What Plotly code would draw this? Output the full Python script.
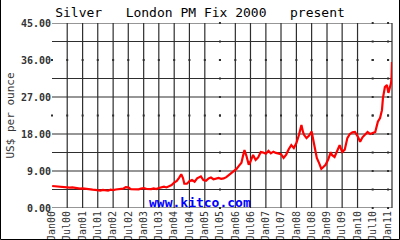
import plotly.graph_objects as go

# ---- data ----
dates = [
    "2000-01-03", "2000-02-01", "2000-03-01", "2000-04-01", "2000-05-01", "2000-06-01",
    "2000-07-01", "2000-08-01", "2000-09-01", "2000-10-01", "2000-11-01", "2000-12-01",
    "2001-01-01", "2001-02-01", "2001-03-01", "2001-04-01", "2001-05-01", "2001-06-01",
    "2001-07-01", "2001-08-01", "2001-09-01", "2001-10-01", "2001-11-01", "2001-12-01",
    "2002-01-01", "2002-02-01", "2002-03-01", "2002-04-01", "2002-05-01", "2002-06-01",
    "2002-07-01", "2002-08-01", "2002-09-01", "2002-10-01", "2002-11-01", "2002-12-01",
    "2003-01-01", "2003-02-01", "2003-03-01", "2003-04-01", "2003-05-01", "2003-06-01",
    "2003-07-01", "2003-08-01", "2003-09-01", "2003-10-01", "2003-11-01", "2003-12-01",
    "2004-01-01", "2004-02-01", "2004-03-01", "2004-03-25", "2004-04-15", "2004-05-01",
    "2004-06-01", "2004-07-01", "2004-08-01", "2004-09-01", "2004-10-01", "2004-11-15",
    "2004-12-15", "2005-01-15", "2005-02-15", "2005-03-15", "2005-04-15", "2005-05-15",
    "2005-06-15", "2005-07-15", "2005-08-15", "2005-09-15", "2005-10-15", "2005-11-15",
    "2005-12-15", "2006-01-15", "2006-02-15", "2006-03-15", "2006-04-01", "2006-04-20",
    "2006-05-15", "2006-06-10", "2006-07-01", "2006-08-01", "2006-09-01", "2006-10-01",
    "2006-11-01", "2006-12-01", "2007-01-01", "2007-02-01", "2007-03-01", "2007-04-01",
    "2007-05-01", "2007-06-01", "2007-07-01", "2007-08-01", "2007-09-01", "2007-10-01",
    "2007-11-01", "2007-12-01", "2008-01-01", "2008-02-01", "2008-03-01", "2008-03-20",
    "2008-04-01", "2008-05-01", "2008-06-01", "2008-07-01", "2008-08-01", "2008-09-01",
    "2008-10-01", "2008-10-25", "2008-11-15", "2008-12-15", "2009-01-15", "2009-02-15",
    "2009-03-01", "2009-04-01", "2009-05-01", "2009-06-01", "2009-07-01", "2009-08-01",
    "2009-09-01", "2009-10-01", "2009-11-01", "2009-12-01", "2010-01-01", "2010-02-01",
    "2010-03-01", "2010-04-01", "2010-05-01", "2010-06-01", "2010-07-01", "2010-08-01",
    "2010-09-01", "2010-09-27", "2010-10-20", "2010-11-01", "2010-11-24", "2010-12-18",
    "2011-01-05", "2011-01-20", "2011-02-06", "2011-02-12", "2011-02-17",
]
prices = [
    5.35, 5.30, 5.10, 5.10, 5.00, 5.00,
    5.05, 4.95, 5.00, 4.90, 4.75, 4.70,
    4.75, 4.65, 4.50, 4.40, 4.45, 4.40,
    4.30, 4.25, 4.40, 4.35, 4.20, 4.45,
    4.35, 4.50, 4.60, 4.60, 4.70, 5.05,
    5.00, 4.60, 4.60, 4.45, 4.55, 4.70,
    4.85, 4.65, 4.55, 4.60, 4.75, 4.60,
    4.85, 5.05, 5.20, 5.00, 5.30, 5.60,
    6.20, 6.60, 7.40, 8.20, 7.30, 5.90,
    5.90, 6.50, 6.80, 6.40, 7.20, 7.70,
    6.80, 6.60, 7.20, 7.40, 7.00, 7.10,
    7.30, 7.10, 7.20, 7.50, 8.00, 8.30,
    8.90, 9.50, 10.30, 11.00, 12.50, 14.10,
    12.60, 10.50, 11.30, 12.90, 11.70, 12.30,
    13.60, 13.50, 13.20, 13.90, 13.30, 13.70,
    13.40, 13.30, 13.10, 12.20, 13.00, 14.30,
    15.30, 14.60, 15.80, 17.80, 20.20, 18.50,
    17.80, 17.00, 17.60, 18.60, 15.80, 12.20,
    10.80, 9.50, 9.90, 10.50, 11.80, 13.60,
    12.90, 12.40, 13.80, 15.30, 13.60, 14.20,
    17.00, 18.00, 18.40, 18.50, 17.50, 16.10,
    17.20, 17.80, 18.50, 18.00, 18.20, 18.50,
    21.00, 21.90, 23.80, 26.80, 29.40, 29.90,
    28.00, 29.40, 30.40, 31.90, 35.50,
]

tick_dates = [f"{y}-{m}-01" for y in range(2000, 2011) for m in ("01", "07")] + ["2011-01-01"]
tick_text = [f"{mo}{str(y)[2:]}" for y in range(2000, 2011) for mo in ("Jan", "Jul")] + ["Jan11"]
y_ticks = [0, 9, 18, 27, 36, 45]
h_grid = [0, 4.5, 9, 13.5, 18, 27, 31.5, 40.5, 45]
h_dotted = [22.5, 36]
v_grid = [d for d in tick_dates[1:] if d not in ("2005-07-01", "2010-07-01", "2011-01-01")]
v_dotted = ["2005-07-01", "2010-07-01", "2011-01-01"]

MONO = "DejaVu Sans Mono"
GRID = "#2e2e2e"

L, R, T, B = 52, 8, 23, 32
W, H = 400, 240
pw, ph = W - L - R, H - T - B

fig = go.Figure()

# grid dots where the grid is drawn only as dots
all_rows = sorted(h_grid + h_dotted)
dx, dy = [], []
for d in v_dotted:
    for v in all_rows:
        dx.append(d); dy.append(v)
for d in tick_dates:
    for v in h_dotted:
        dx.append(d); dy.append(v)
fig.add_trace(go.Scatter(x=dx, y=dy, mode="markers",
                         marker=dict(symbol="square", size=2, color=GRID, line_width=0),
                         hoverinfo="skip", showlegend=False, cliponaxis=False))

fig.add_trace(go.Scatter(x=dates, y=prices, mode="lines",
                         line=dict(color="#ff0000", width=2.2), showlegend=False))

shapes = []
for v in h_grid:
    shapes.append(dict(type="line", xref="paper", yref="y", x0=0, x1=1, y0=v, y1=v,
                       line=dict(color=GRID, width=1.2), layer="below"))
for d in v_grid:
    shapes.append(dict(type="line", xref="x", yref="paper", x0=d, x1=d, y0=0, y1=1,
                       line=dict(color=GRID, width=1.2), layer="below"))
# right border of the plot
shapes.append(dict(type="line", xref="paper", yref="paper", x0=1, x1=1, y0=0, y1=1,
                   line=dict(color=GRID, width=1.2), layer="below"))
# image frame
shapes.append(dict(type="rect", xref="paper", yref="paper",
                   x0=(0.5 - L) / pw, x1=(W - 0.5 - L) / pw,
                   y0=-(B - 0.5) / ph, y1=(H - T - 0.5) / ph,
                   line=dict(color="#000000", width=1)))

fig.update_layout(
    width=W, height=H,
    margin=dict(l=L, r=R, t=T, b=B, autoexpand=False),
    paper_bgcolor="white", plot_bgcolor="white",
    title=dict(text="Silver   London PM Fix 2000   present", x=0.5, xanchor="center",
               y=1 - 12 / H, yanchor="middle",
               font=dict(family=MONO, size=13, color="#000000")),
    shapes=shapes,
    annotations=[dict(text="www.kitco.com", xref="paper", yref="paper",
                      x=(200 - L) / pw, y=(208 - 202) / ph, xanchor="center", yanchor="middle",
                      showarrow=False,
                      font=dict(family=MONO, size=13, color="#0000ff", weight="bold"))],
    xaxis=dict(type="date", range=["2000-01-01", "2011-02-17"], showgrid=False,
               zeroline=False, showline=False, tickmode="array", automargin=False,
               tickvals=tick_dates, ticktext=tick_text, tickangle=-90,
               ticks="", tickfont=dict(family=MONO, size=10, color="#333333")),
    yaxis=dict(range=[0, 45], showgrid=False, zeroline=False, showline=False,
               tickmode="array", tickvals=y_ticks, tickformat=".2f", ticks="",
               automargin=False,
               tickfont=dict(family=MONO, size=10, color="#333333", weight="bold"),
               title=dict(text="US$ per ounce", standoff=4,
                          font=dict(family=MONO, size=11, color="#333333"))),
)

fig.write_html("out.html")
